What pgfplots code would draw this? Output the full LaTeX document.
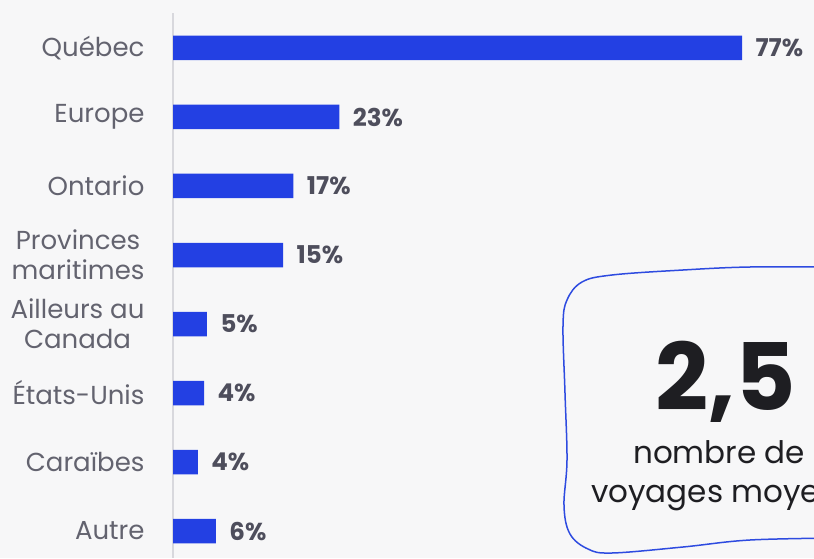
\documentclass[border=0pt]{standalone}
\usepackage{pgfplots}
\pgfplotsset{compat=1.18}
\usepackage{fontspec}
\setmainfont{Poppins}
\definecolor{bg}{HTML}{F7F7F8}
\definecolor{barblue}{HTML}{2340E3}
\definecolor{lblgray}{HTML}{63636F}
\definecolor{valgray}{HTML}{4E4E5C}
\definecolor{axgray}{HTML}{D8D8DD}
\definecolor{bigblack}{HTML}{1E1E22}
\definecolor{boxblue}{HTML}{2E4BE0}
\pgfplotstableread{
y val lab
7 77.0 77
6 22.5 23
5 16.3 17
4 14.9 15
3 4.6 5
2 4.2 4
1 3.35 4
0 5.8 6
}\datatable
\begin{document}
\begin{tikzpicture}
\fill[bg] (0pt,0pt) rectangle (814pt,558pt);
\begin{axis}[
  at={(173pt,0pt)}, anchor=south west,
  scale only axis, width=739pt, height=545pt,
  xmin=0, xmax=100, ymin=-0.391, ymax=7.507,
  xbar, bar width=24.5pt,
  axis x line=none,
  axis y line*=left,
  y axis line style={axgray, line width=1.6pt},
  ytick={0,...,7},
  yticklabels={Autre,Caraïbes,États-Unis,Ailleurs au\\Canada,Provinces\\maritimes,Ontario,Europe,Québec},
  major tick length=0pt,
  yticklabel style={align=center, font=\fontsize{26}{30}\selectfont, text=lblgray, xshift=-25pt},
  point meta=explicit,
  nodes near coords={\pgfmathprintnumber{\pgfplotspointmeta}\%},
  /pgf/number format/assume math mode=true,
  nodes near coords style={font=\fontsize{24.5}{26}\selectfont\bfseries, text=valgray, anchor=west, xshift=10pt},
  clip=false,
]
\addplot[fill=barblue, draw=none] table[x=val, y=y, meta=lab] {\datatable};
\end{axis}
\begin{scope}[x=1pt,y=1pt]
\draw[boxblue, line width=1.5pt] plot[smooth, tension=0.6] coordinates {(840,291) (750,291) (683,288) (612,283) (582,276) (567,258) (563,232) (565,165) (567,98) (564,52) (570,24) (588,9) (612,5) (683,11) (750,18) (840,20)};
\node[anchor=base, font=\fontsize{93}{93}\selectfont\bfseries, text=bigblack, inner sep=0pt] at (726,148) {2,5};
\node[anchor=base west, font=\fontsize{31}{31}\selectfont, text=bigblack, inner sep=0pt] at (633,95) {nombre de};
\node[anchor=base west, font=\fontsize{31}{31}\selectfont, text=bigblack, inner sep=0pt] at (591,56) {voyages moyens};
\end{scope}
\pgfresetboundingbox
\useasboundingbox (0pt,0pt) rectangle (814pt,558pt);
\end{tikzpicture}
\end{document}
